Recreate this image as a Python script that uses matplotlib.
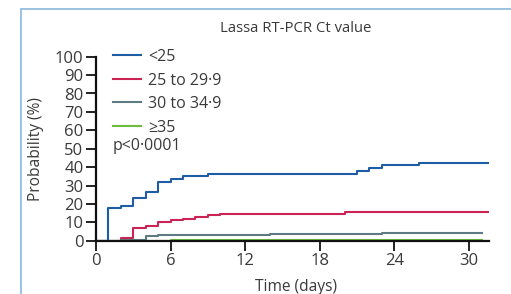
import matplotlib
matplotlib.use('Agg')
from matplotlib import pyplot as plt
from matplotlib.patches import Rectangle

# step times (days) and cumulative probability (%)
days_lt25 = [0, 1, 2, 3, 4, 5, 6, 7, 9, 21, 22, 23, 26, 31.6]
prob_lt25 = [0, 17.6, 19, 23.4, 26.3, 32, 33.7, 35.1, 36.4, 38, 39.5, 41, 42.4, 42.4]

days_25_29 = [0, 2, 3, 4, 5, 6, 7, 8, 9, 10, 20, 31.6]
prob_25_29 = [0, 1.4, 6.9, 8, 10.1, 11, 12, 12.9, 13.8, 14.5, 15.6, 15.6]

days_30_34 = [0, 2, 4, 5, 14, 23, 31.1]
prob_30_34 = [0, 0.4, 2.4, 3.1, 3.4, 4.2, 4.2]

days_ge35 = [0, 6, 31.1]
prob_ge35 = [0, 0.6, 0.6]

labels = ['<25', '25 to 29·9', '30 to 34·9', '≥35']
colors = ['#1f5ca6', '#cc2355', '#5e7a82', '#6cbd3e']
txt = '#3a3a3a'

plt.rcParams['font.family'] = ['Open Sans', 'DejaVu Sans']

fig = plt.figure(figsize=(5.11, 2.94), dpi=100)
ax = fig.add_axes([96 / 511, 1 - 240.7 / 294, (488.7 - 96) / 511, (240.7 - 56.7) / 294])

series = [(days_lt25, prob_lt25), (days_25_29, prob_25_29),
          (days_30_34, prob_30_34), (days_ge35, prob_ge35)]
for (d, p), lab, c in zip(series, labels, colors):
    ax.step(d, p, where='post', color=c, lw=1.5, label=lab)

ax.set_xlim(0, 31.6)
ax.set_ylim(0, 100)
ax.set_xticks([0, 6, 12, 18, 24, 30])
ax.set_yticks(range(0, 101, 10))
for s in ['top', 'right']:
    ax.spines[s].set_visible(False)
for s in ['left', 'bottom']:
    ax.spines[s].set_linewidth(1.6)
    ax.spines[s].set_color('#111111')
ax.tick_params(length=7, width=1.3, color='#111111', labelsize=12,
               labelcolor=txt, pad=2)
ax.patch.set_alpha(0)

leg = ax.legend(loc='upper left', bbox_to_anchor=(113 / 511, 1 - 49 / 294),
                bbox_transform=fig.transFigure, frameon=False, fontsize=11.5,
                handlelength=1.75, handletextpad=0.45, labelspacing=0.47,
                borderaxespad=0, borderpad=0)
for t in leg.get_texts():
    t.set_color(txt)

fig.text(113 / 511, 1 - 146 / 294, 'p<0·0001', fontsize=11.5, color=txt,
         va='center', ha='left')
fig.text(296 / 511, 1 - 29 / 294, 'Lassa RT-PCR Ct value', fontsize=10.7,
         color=txt, ha='center', va='center')
fig.text(36 / 511, 1 - 149 / 294, 'Probability (%)', fontsize=11.2,
         color=txt, rotation=90, ha='center', va='center')
fig.text(296 / 511, 3 / 294, 'Time (days)', fontsize=11.2, color=txt,
         ha='center', va='baseline')

fig.patches.append(Rectangle((21 / 511, -0.1), 1.2, 1 - 9.5 / 294 + 0.1,
                             transform=fig.transFigure, fill=False,
                             edgecolor='#8bb8dd', lw=1.2))

fig.savefig('out.png', dpi=100)
